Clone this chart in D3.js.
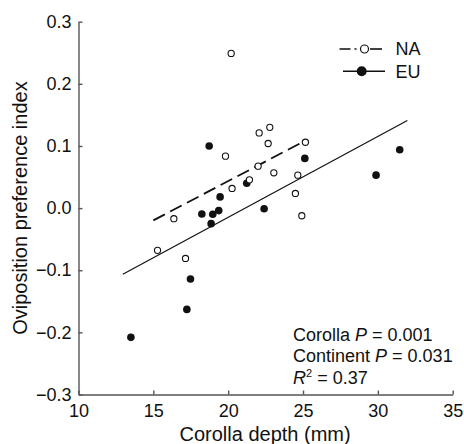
<!DOCTYPE html>
<html>
<head>
<meta charset="utf-8">
<script src="https://cdn.jsdelivr.net/npm/d3@7"></script>
<style>
  html, body { margin: 0; padding: 0; background: #fff; }
  svg { display: block; font-family: "Liberation Sans", Arial, Helvetica, sans-serif; }
</style>
</head>
<body>
<svg id="chart" width="464" height="444"></svg>
<script>
// ---- Data ----
const naDepth = [20.2, 22.07, 22.78, 22.67, 25.16, 19.82, 22.0, 23.05, 21.42, 20.26, 24.65, 24.49, 24.92, 16.37, 15.28, 17.15];
const naIndex = [0.249, 0.121, 0.130, 0.104, 0.106, 0.0836, 0.0675, 0.0568, 0.0455, 0.0316, 0.053, 0.0236, -0.0123, -0.0171, -0.068, -0.081];

const euDepth = [18.73, 25.12, 31.46, 29.88, 21.24, 19.46, 18.24, 18.97, 19.37, 18.86, 22.4, 17.48, 17.24, 13.5];
const euIndex = [0.100, 0.080, 0.094, 0.053, 0.040, 0.018, -0.0096, -0.010, -0.004, -0.025, -0.001, -0.114, -0.163, -0.208];

// regression line endpoints [depth, index]
const naFitX = [15.0, 25.1];
const naFitY = [-0.0198, 0.108];
const euFitX = [12.96, 31.97];
const euFitY = [-0.1066, 0.141];

const xTicks = [10, 15, 20, 25, 30, 35];
const yTicks = [-0.3, -0.2, -0.1, 0.0, 0.1, 0.2, 0.3];

const legendLabels = ["NA", "EU"];
const statLines = [
  ["Corolla ", "P", " = 0.001"],
  ["Continent ", "P", " = 0.031"]
];
const r2Value = " = 0.37";

const xTitle = "Corolla depth (mm)";
const yTitle = "Oviposition preference index";

// ---- Layout ----
const svg = d3.select("#chart");
const mLeft = 78.5, mRight = 452.7, mTop = 21.7, mBottom = 394.5;

const x = d3.scaleLinear().domain([10, 35]).range([mLeft, mRight]);
const y = d3.scaleLinear().domain([-0.3, 0.3]).range([mBottom, mTop]);

const axisColor = "#555";

// X axis
const gx = svg.append("g")
  .attr("transform", `translate(0,${mBottom})`)
  .call(d3.axisBottom(x).tickValues(xTicks).tickFormat(d3.format("d"))
    .tickSizeInner(-4).tickSizeOuter(0).tickPadding(10));
gx.select(".domain").attr("stroke", axisColor).attr("stroke-width", 1.4);
gx.selectAll(".tick line").attr("stroke", axisColor).attr("stroke-width", 1.4);
gx.selectAll(".tick text").attr("font-size", 18).attr("fill", "#111")
  .attr("font-family", "Liberation Sans, Arial, sans-serif");

// Y axis
const gy = svg.append("g")
  .attr("transform", `translate(${mLeft},0)`)
  .call(d3.axisLeft(y).tickValues(yTicks)
    .tickFormat(d => d3.format(".1f")(d).replace("-", "\u2212"))
    .tickSizeInner(-4).tickSizeOuter(0).tickPadding(7));
gy.select(".domain").attr("stroke", axisColor).attr("stroke-width", 1.4);
gy.selectAll(".tick line").attr("stroke", axisColor).attr("stroke-width", 1.4);
gy.selectAll(".tick text").attr("font-size", 18).attr("fill", "#111")
  .attr("font-family", "Liberation Sans, Arial, sans-serif");

// Axis titles
svg.append("text")
  .attr("x", (mLeft + mRight) / 2 - 0.5)
  .attr("y", 441)
  .attr("text-anchor", "middle")
  .attr("font-size", 20)
  .attr("fill", "#111")
  .text(xTitle);

svg.append("text")
  .attr("transform", `translate(27,${(mTop + mBottom) / 2}) rotate(-90)`)
  .attr("text-anchor", "middle")
  .attr("font-size", 20)
  .attr("fill", "#111")
  .text(yTitle);

// Regression lines
const line = d3.line().x(d => x(d[0])).y(d => y(d[1]));
svg.append("path")
  .datum(euFitX.map((v, i) => [v, euFitY[i]]))
  .attr("d", line)
  .attr("fill", "none").attr("stroke", "#111").attr("stroke-width", 1.2);
svg.append("path")
  .datum(naFitX.map((v, i) => [v, naFitY[i]]))
  .attr("d", line)
  .attr("fill", "none").attr("stroke", "#111").attr("stroke-width", 1.8)
  .attr("stroke-dasharray", "13,6");

// Points
svg.append("g").selectAll("circle")
  .data(euDepth.map((v, i) => [v, euIndex[i]]))
  .join("circle")
  .attr("cx", d => x(d[0])).attr("cy", d => y(d[1]))
  .attr("r", 3.8).attr("fill", "#111");

svg.append("g").selectAll("circle")
  .data(naDepth.map((v, i) => [v, naIndex[i]]))
  .join("circle")
  .attr("cx", d => x(d[0])).attr("cy", d => y(d[1]))
  .attr("r", 3.1).attr("fill", "#fff").attr("stroke", "#111").attr("stroke-width", 1.1);

// Legend
const lg = svg.append("g");
// NA row
lg.append("line").attr("x1", 339.5).attr("x2", 382).attr("y1", 49).attr("y2", 49)
  .attr("stroke", "#111").attr("stroke-width", 1.6).attr("stroke-dasharray", "11,4,2,30");
lg.append("line").attr("x1", 370).attr("x2", 382).attr("y1", 49).attr("y2", 49)
  .attr("stroke", "#111").attr("stroke-width", 1.6);
lg.append("circle").attr("cx", 364.5).attr("cy", 49).attr("r", 4)
  .attr("fill", "#fff").attr("stroke", "#111").attr("stroke-width", 1.2);
lg.append("text").attr("x", 395.5).attr("y", 55).attr("font-size", 18).attr("fill", "#111")
  .text(legendLabels[0]);
// EU row
lg.append("line").attr("x1", 343).attr("x2", 385).attr("y1", 71.3).attr("y2", 71.3)
  .attr("stroke", "#111").attr("stroke-width", 1.6);
lg.append("circle").attr("cx", 361.7).attr("cy", 71.3).attr("r", 5)
  .attr("fill", "#111");
lg.append("text").attr("x", 395.5).attr("y", 77.5).attr("font-size", 18).attr("fill", "#111")
  .text(legendLabels[1]);

// Statistics annotation
const ann = svg.append("g").attr("font-size", 18).attr("fill", "#111");
statLines.forEach((parts, i) => {
  const t = ann.append("text").attr("x", 293).attr("y", 340.5 + i * 21.7);
  t.append("tspan").text(parts[0]);
  t.append("tspan").attr("font-style", "italic").text(parts[1]);
  t.append("tspan").text(parts[2]);
});
const t3 = ann.append("text").attr("x", 293).attr("y", 383.9);
t3.append("tspan").attr("font-style", "italic").text("R");
t3.append("tspan").attr("font-size", 11).attr("dy", -7).text("2");
t3.append("tspan").attr("dy", 7).text(r2Value);
</script>
</body>
</html>
